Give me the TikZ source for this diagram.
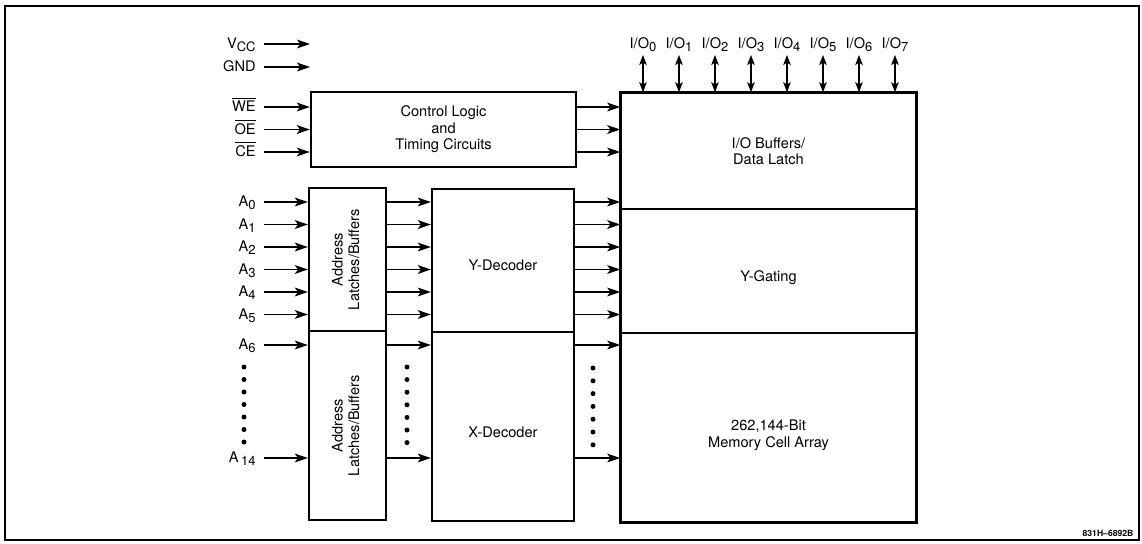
\documentclass[tikz,border=0pt]{standalone}
\usepackage{fontspec}
\setmainfont{TeX Gyre Heros}
\usetikzlibrary{arrows.meta}
\newcommand{\sbs}[1]{\raisebox{-1.5pt}{\fontsize{6.5}{7}\selectfont #1}}
\newcommand{\ovl}[1]{$\overline{\hbox{#1}}$}
\begin{document}
\begin{tikzpicture}[x=0.5pt,y=-0.5pt, font=\fontsize{7.3}{8.3}\selectfont,
  box/.style={draw, line width=1.2pt, inner sep=0pt, align=center},
  thinbox/.style={draw, line width=0.8pt, inner sep=0pt, align=center},
  arr/.style={-{Stealth[length=6.5pt,width=4.4pt,inset=1.6pt]}, line width=0.7pt},
  darr/.style={{Stealth[length=5pt,width=3.8pt,inset=1.2pt]}-{Stealth[length=5pt,width=3.8pt,inset=1.2pt]}, line width=0.65pt},
  lbl/.style={anchor=base east, inner sep=0pt},
  bigdot/.style={circle, fill, inner sep=0pt, minimum size=2.5pt}]
\useasboundingbox (0,0) rectangle (1142,543);
\draw[line width=0.8pt] (5,6) rectangle (1139,540);

% boxes
\node[box, minimum width=132.5pt, minimum height=37.5pt] (ctrl) at (443.5,129.5) {Control Logic\\and\\Timing Circuits};
\node[box, minimum width=38.5pt, minimum height=71.5pt] (lat1) at (347.5,259.5)
  {\rotatebox{90}{\begin{tabular}{@{}c@{}}Address\\Latches/Buffers\end{tabular}}};
\node[box, minimum width=38.5pt, minimum height=94.5pt] (lat2) at (347.5,425.5)
  {\rotatebox{90}{\begin{tabular}{@{}c@{}}Address\\Latches/Buffers\end{tabular}}};
\node[box, minimum width=71pt, minimum height=71.5pt] (ydec) at (503,260.5) {\rule{0pt}{10pt}Y-Decoder};
\node[box, minimum width=71pt, minimum height=94.5pt] (xdec) at (503,426.5) {\rule{0pt}{11pt}X-Decoder};
\node[thinbox, minimum width=147.5pt, minimum height=58pt] (iobuf) at (768.5,151) {I/O Buffers/\\Data Latch};
\node[thinbox, minimum width=147.5pt, minimum height=62pt] (ygate) at (768.5,271) {\rule{0pt}{12.5pt}Y-Gating};
\node[thinbox, minimum width=147.5pt, minimum height=94.5pt] (mem) at (768.5,427.5) {\rule{0pt}{13pt}262,144-Bit\\Memory Cell Array};
\draw[line width=1.2pt] (iobuf.north west) rectangle (mem.south east);

% power
\node[lbl] (vcc) at (256,48.5) {V\sbs{CC}};
\coordinate (vcc-s) at (264,44);
\coordinate (vcc-e) at (310,44);
\draw[arr] (vcc-s) -- (vcc-e);
\node[lbl] (gnd) at (256,71.5) {GND};
\coordinate (gnd-s) at (264,67);
\coordinate (gnd-e) at (310,67);
\draw[arr] (gnd-s) -- (gnd-e);

% control inputs
\foreach \n/\t/\y in {we/WE/107, oe/OE/129.5, ce/CE/152} {
  \node[lbl] (\n) at (256,\y+4.5) {\ovl{\t}};
  \coordinate (\n-s) at (264,\y);
  \draw[arr] (\n-s) -- (\n-s -| ctrl.west);
  \draw[arr] (\n-s -| ctrl.east) -- (\n-s -| iobuf.west);
}

% address inputs
\foreach \n/\t/\y in {0/A\sbs{0}/202, 1/A\sbs{1}/224.5, 2/A\sbs{2}/247, 3/A\sbs{3}/269.5,
                      4/A\sbs{4}/292, 5/A\sbs{5}/314.5, 6/A\sbs{6}/345, 14/A\,\sbs{14}/458} {
  \node[lbl] (a\n) at (256,\y+4.5) {\t};
  \coordinate (a\n-s) at (264,\y);
  \draw[arr] (a\n-s) -- (a\n-s -| lat1.west);
  \draw[arr] (a\n-s -| lat1.east) -- (a\n-s -| ydec.west);
  \draw[arr] (a\n-s -| ydec.east) -- (a\n-s -| iobuf.west);
}

% dots
\foreach \i in {0,...,6} {
  \node[bigdot] (dl\i) at (244,367+12.5*\i) {};
  \node[bigdot] (dm\i) at (407,367+12.6*\i) {};
  \node[bigdot] (dr\i) at (593,368+12.8*\i) {};
}

% I/O
\foreach \i [evaluate=\i as \xx using 643+36*\i] in {0,...,7} {
  \node[anchor=base, inner sep=0pt] (io\i) at (\xx,48) {I/O\sbs{\i}};
  \coordinate (io\i-t) at (\xx,55);
  \draw[darr] (io\i-t) -- (io\i-t |- iobuf.north);
}

\node[font=\fontsize{4.3}{5}\bfseries\selectfont, inner sep=0pt] (fig) at (1108,533) {831H--6892B};
\end{tikzpicture}
\end{document}
